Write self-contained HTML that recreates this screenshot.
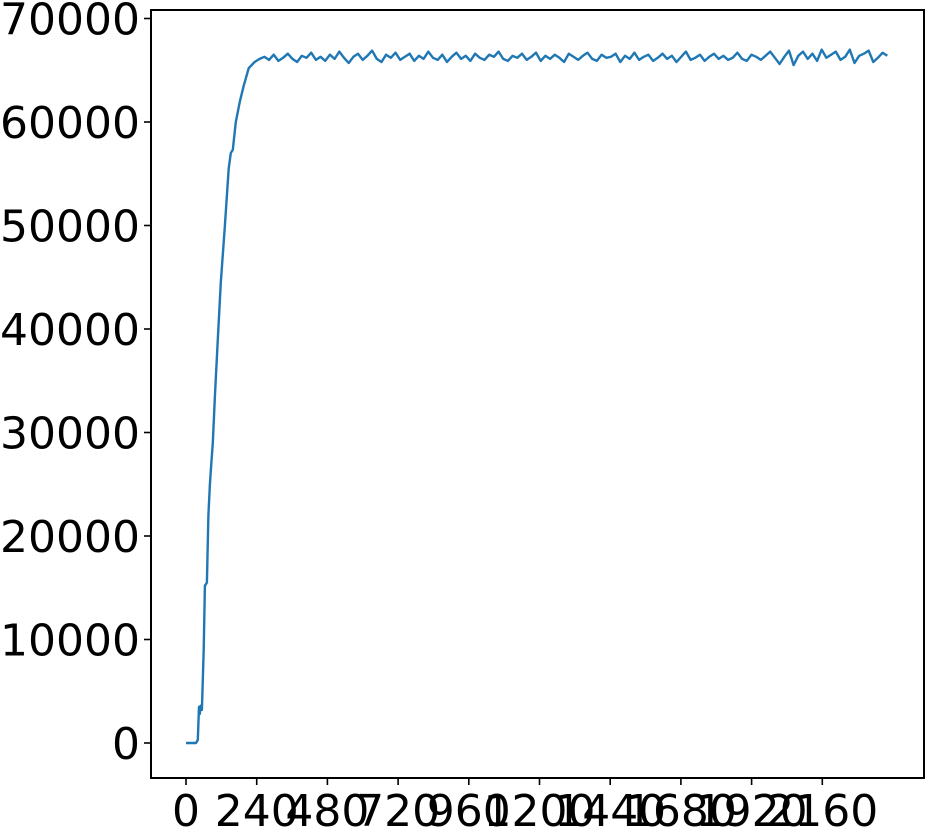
<!DOCTYPE html>
<html><head><meta charset="utf-8"><style>
html,body{margin:0;padding:0;background:#fff;}
svg{display:block;font-family:"DejaVu Sans","Liberation Sans",sans-serif;}
</style></head><body>
<svg id="chart" width="925" height="832">
<g id="plot"></g>
<rect x="151" y="10" width="773" height="768" fill="none" stroke="#000" stroke-width="2"/>
<g id="yaxis"></g>
<g id="xaxis"></g>
</svg>
<script>
const xTicks=[0,240,480,720,960,1200,1440,1680,1920,2160];
const yTicks=[0,10000,20000,30000,40000,50000,60000,70000];
const rampX=[0,10,20,30,34,40,44,47,50,54,60,64,71,76,81,86,91,98,108,118,132,145,152,159,169,183,196,213,233,250];
const rampY=[0,0,0,0,0,300,3500,2800,3600,3200,9000,15200,15500,22000,25000,27000,29000,33500,39000,44500,50000,55500,57000,57300,60000,62000,63500,65200,65800,66100];
const plateauY=[66300,66000,66500,65900,66200,66600,66100,65800,66400,66200,66700,66000,66300,65900,66500,66100,66800,66200,65700,66300,66600,66000,66400,66900,66100,65800,66500,66200,66700,66000,66300,66600,65900,66400,66100,66800,66200,66000,66500,65800,66300,66700,66100,66400,65900,66600,66200,66000,66500,66300,66800,66100,65900,66400,66200,66600,66000,66300,66700,65900,66400,66100,66500,66200,65800,66600,66300,66000,66400,66700,66100,65900,66500,66200,66300,66600,65800,66400,66100,66700,66000,66300,66500,65900,66200,66600,66100,66400,65800,66300,66800,66000,66200,66500,65900,66300,66600,66100,66400,66000,66200,66700,66100,65900,66500,66300,66000,66400,66800,66200,65600,66300,66900,65500,66400,66800,66100,66600,65900,67000,66200,66500,66800,66000,66300,67000,65700,66400,66600,66900,65800,66200,66700,66400];
const plateauStart=266, plateauStep=15.9;
function xs(v){return 186+v*(70.7/240);}
function ys(v){return 743-v*(103.5/10000);}
const NS='http://www.w3.org/2000/svg';
const plot=document.getElementById('plot');
let pts=[];
for(let i=0;i<rampX.length;i++)pts.push([rampX[i],rampY[i]]);
for(let i=0;i<plateauY.length;i++)pts.push([plateauStart+i*plateauStep,plateauY[i]]);
const path=document.createElementNS(NS,'path');
path.setAttribute('d',pts.map((p,i)=>(i?'L':'M')+xs(p[0]).toFixed(1)+','+ys(p[1]).toFixed(1)).join(''));
path.setAttribute('fill','none');path.setAttribute('stroke','#1f77b4');path.setAttribute('stroke-width','2.4');path.setAttribute('stroke-linejoin','round');


plot.appendChild(path);
const ya=document.getElementById('yaxis');
yTicks.forEach(v=>{
 const l=document.createElementNS(NS,'line');
 l.setAttribute('x1',144);l.setAttribute('x2',151);l.setAttribute('y1',ys(v));l.setAttribute('y2',ys(v));l.setAttribute('stroke','#000');l.setAttribute('stroke-width','1.6');
 
 
 ya.appendChild(l);
 const t=document.createElementNS(NS,'text');
 t.setAttribute('x',140);t.setAttribute('y',ys(v)+16);t.setAttribute('text-anchor','end');t.setAttribute('font-size','44');
 t.textContent=v;
 
 
 ya.appendChild(t);
});
const xa=document.getElementById('xaxis');
xTicks.forEach(v=>{
 const l=document.createElementNS(NS,'line');
 l.setAttribute('x1',xs(v));l.setAttribute('x2',xs(v));l.setAttribute('y1',778);l.setAttribute('y2',785);l.setAttribute('stroke','#000');l.setAttribute('stroke-width','1.6');
 
 
 xa.appendChild(l);
 const t=document.createElementNS(NS,'text');
 t.setAttribute('x',xs(v));t.setAttribute('y',826);t.setAttribute('text-anchor','middle');t.setAttribute('font-size','44');
 t.textContent=v;
 
 
 xa.appendChild(t);
});
</script>
</body></html>
